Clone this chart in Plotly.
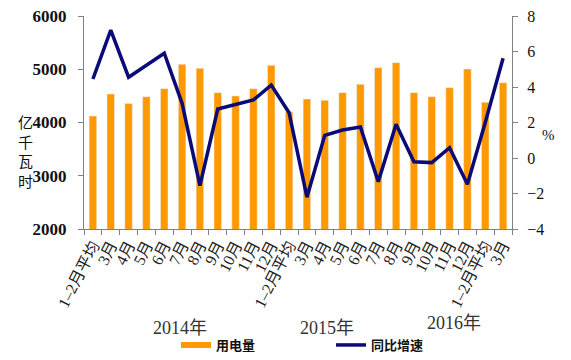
import plotly.graph_objects as go

labels = ["1–2月平均", "3月", "4月", "5月", "6月", "7月", "8月", "9月", "10月", "11月", "12月",
          "1–2月平均", "3月", "4月", "5月", "6月", "7月", "8月", "9月", "10月", "11月", "12月",
          "1–2月平均", "3月"]
power = [4120, 4535, 4355, 4485, 4635, 5093, 5017, 4560, 4498, 4635, 5074,
         4203, 4441, 4416, 4560, 4717, 5029, 5123, 4560, 4485, 4654, 5005,
         4379, 4747]
growth = [4.45, 7.2, 4.55, 5.24, 5.9, 3.08, -1.56, 2.76, 3.02, 3.27, 4.11,
          2.55, -2.21, 1.28, 1.58, 1.75, -1.33, 1.9, -0.21, -0.26, 0.58, -1.48,
          2.0, 5.62]
years = ["2014年", "2015年", "2016年"]

x = list(range(len(labels)))
serif = "Liberation Serif, Noto Sans CJK SC, serif"
cjk = "Noto Sans CJK SC, sans-serif"

fig = go.Figure()
fig.add_trace(go.Bar(x=x, y=power, marker_color="#FF9900", width=0.42,
                     showlegend=False, name="用电量"))
fig.add_trace(go.Scatter(x=[None], y=[None], mode="lines", name="用电量",
                         line=dict(color="#FF9900", width=6), legend="legend"))
fig.add_trace(go.Scatter(x=x, y=growth, mode="lines", name="同比增速", yaxis="y2",
                         line=dict(color="#0A0A78", width=3.5), legend="legend2"))

leg_y = 1 - 345 / 360
fig.update_layout(
    width=571, height=360,
    margin=dict(l=84, r=59, t=16, b=131),
    plot_bgcolor="white", paper_bgcolor="white",
    bargap=0.5,
    xaxis=dict(range=[-0.5, len(labels) - 0.5], tickmode="array", tickvals=x, ticktext=labels,
               tickangle=-63, ticks="", showgrid=False, zeroline=False, automargin=False,
               showline=True, linecolor="#808080", linewidth=1,
               tickfont=dict(family=serif, size=16, color="#222"),
               minor=dict(tick0=0.5, dtick=1, ticks="outside", ticklen=5,
                          tickcolor="#808080", showgrid=False)),
    yaxis=dict(range=[2000, 6000], dtick=1000, ticks="outside", ticklen=5, tickcolor="#808080",
               showline=True, linecolor="#808080", showgrid=False, zeroline=False, automargin=False,
               tickfont=dict(family=serif, size=17, color="#111", weight="bold"),
               ticklabelstandoff=8),
    yaxis2=dict(range=[-4, 8], dtick=2, overlaying="y", side="right", ticks="outside",
                ticklen=5, tickcolor="#808080", showline=True, linecolor="#808080",
                showgrid=False, zeroline=False, automargin=False,
                tickfont=dict(family=serif, size=16, color="#111"), ticklabelstandoff=6),
    legend=dict(orientation="h", xref="container", yref="container", x=176 / 571, y=leg_y,
                xanchor="left", yanchor="middle",
                font=dict(family=cjk, size=13, color="#111", weight="bold"),
                bgcolor="rgba(0,0,0,0)"),
    legend2=dict(orientation="h", xref="container", yref="container", x=331 / 571, y=leg_y,
                 xanchor="left", yanchor="middle",
                 font=dict(family=cjk, size=13, color="#111", weight="bold"),
                 bgcolor="rgba(0,0,0,0)"),
)

fig.add_annotation(text="亿<br>千<br>瓦<br>时", xref="paper", yref="paper",
                   x=(25 - 84) / 428, y=(229 - 151) / 213, showarrow=False,
                   font=dict(family=cjk, size=15, color="#111"), xanchor="center", yanchor="middle")
fig.add_annotation(text="%", xref="paper", yref="paper", x=(548 - 84) / 428, y=(229 - 135) / 213,
                   showarrow=False, font=dict(family=serif, size=15, color="#111"),
                   xanchor="center", yanchor="middle")
for t, px, py in zip(years, [180, 327, 454], [328, 328, 323]):
    fig.add_annotation(text=t, xref="paper", yref="paper", x=(px - 84) / 428, y=(229 - py) / 213,
                       showarrow=False, font=dict(family=serif, size=18, color="#333"),
                       xanchor="center", yanchor="middle")

fig.write_html("out.html")
